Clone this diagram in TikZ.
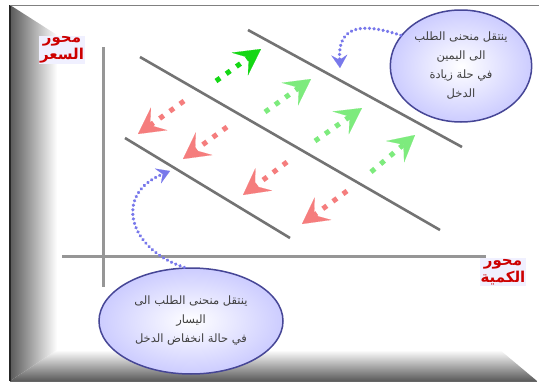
\documentclass[tikz,border=0pt]{standalone}
\usepackage{fontspec}
\newfontfamily\arabicfont[Script=Arabic]{DejaVu Sans}
\usetikzlibrary{arrows.meta, positioning, shapes.geometric}
\TeXXeTstate=1
\definecolor{curvegray}{RGB}{115,115,115}
\definecolor{axisgray}{RGB}{150,150,150}
\definecolor{darkgreen}{RGB}{20,215,20}
\definecolor{shiftgreen}{RGB}{125,235,125}
\definecolor{shiftred}{RGB}{245,125,125}
\definecolor{bubbleblue}{RGB}{70,70,150}
\definecolor{hintblue}{RGB}{120,120,235}
\definecolor{labelred}{RGB}{205,0,0}
\newcommand{\artxt}[1]{\beginR #1\endR}

\begin{document}
\begin{tikzpicture}[x=1pt, y=-1pt,
    curve/.style={curvegray, line width=2.6pt},
    axisline/.style={axisgray, line width=3pt},
    moveright/.style={shiftgreen, line width=5pt, dash pattern=on 5pt off 7.5pt, -{Stealth[length=26pt, width=28pt, inset=11pt, line width=0.1pt]}},
    moveleft/.style={moveright, shiftred},
    hint/.style={hintblue, line width=3.5pt, line cap=round, dash pattern=on 0.1pt off 4.5pt, -{Stealth[length=13pt, width=16pt, inset=5pt, line width=0.1pt]}},
    bubble/.style={ellipse, draw=bubbleblue, line width=1.5pt, inner color=white, outer color=blue!20!white, text=black!75, align=center, font=\arabicfont\fontsize{11.5}{19}\selectfont},
    axislabel/.style={fill=blue!6, text=labelred, align=center, inner sep=1pt, font=\arabicfont\bfseries\fontsize{15}{17}\selectfont}]
    \useasboundingbox (0,0) rectangle (539,383);
    \fill[white] (0,0) rectangle (539,383);
    \shade[top color=white, bottom color=black!65] (10,381) -- (57,350) -- (500,350) -- (537,381) -- cycle;
    \shade[left color=black!65, right color=white] (10,5) -- (57,35) -- (57,350) -- (10,381) -- cycle;
    \draw[black!85, line width=1.5pt] (10,381) -- (10,5);
    \draw[gray, line width=1pt] (10,5) -- (539,5);
    \draw[black!60, line width=1pt] (10,381) -- (537,381);

    \coordinate (yTop) at (103,47);
    \coordinate (yBot) at (103,287);
    \coordinate (xLeft) at (62,256);
    \coordinate (xRight) at (486,256);
    \draw[axisline] (yTop) -- (yBot);
    \draw[axisline] (xLeft) -- (xRight);
    \node[axislabel] (priceLabel) at (62,50) {\artxt{محور}\\\artxt{السعر}};
    \node[axislabel] (qtyLabel) at (503,272) {\artxt{محور}\\\artxt{الكمية}};

    \coordinate (d1a) at (125,138);
    \coordinate (d1b) at (290,238);
    \coordinate (d2a) at (140,57);
    \coordinate (d2b) at (440,230);
    \coordinate (d3a) at (248,30);
    \coordinate (d3b) at (462,147);
    \draw[curve] (d1a) -- (d1b);
    \draw[curve] (d2a) -- (d2b);
    \draw[curve] (d3a) -- (d3b);

    \coordinate (g1s) at (216,81);    \coordinate (g1e) at (261,49);
    \coordinate (g2s) at (265,112);   \coordinate (g2e) at (311,79);
    \coordinate (g3s) at (315,141);   \coordinate (g3e) at (362,108);
    \coordinate (g4s) at (371,172);   \coordinate (g4e) at (415,135);
    \draw[moveright, darkgreen] (g1s) -- (g1e);
    \draw[moveright] (g2s) -- (g2e);
    \draw[moveright] (g3s) -- (g3e);
    \draw[moveright] (g4s) -- (g4e);

    \coordinate (r1s) at (184,101);   \coordinate (r1e) at (138,134);
    \coordinate (r2s) at (227,127);   \coordinate (r2e) at (183,159);
    \coordinate (r3s) at (287,162);   \coordinate (r3e) at (243,195);
    \coordinate (r4s) at (347,191);   \coordinate (r4e) at (302,224);
    \draw[moveleft] (r1s) -- (r1e);
    \draw[moveleft] (r2s) -- (r2e);
    \draw[moveleft] (r3s) -- (r3e);
    \draw[moveleft] (r4s) -- (r4e);

    \node[bubble, minimum width=138pt, minimum height=112pt] (rightNote) at (461,66)
        {\artxt{ينتقل منحنى الطلب}\\\artxt{الى اليمين}\\\artxt{في حلة زيادة}\\\artxt{الدخل}};
    \node[bubble, minimum width=184pt, minimum height=106pt] (leftNote) at (191,321)
        {\artxt{ينتقل منحنى الطلب الى}\\\artxt{اليسار}\\\artxt{في حالة انخفاض الدخل}};

    \coordinate (rightTip) at (340,68);
    \coordinate (leftTip) at (170,171);
    \draw[hint] (rightNote.153) .. controls (355,20) and (338,30) .. (rightTip);
    \draw[hint] (leftNote.97) .. controls (130,250) and (112,195) .. (leftTip);
\end{tikzpicture}
\end{document}
